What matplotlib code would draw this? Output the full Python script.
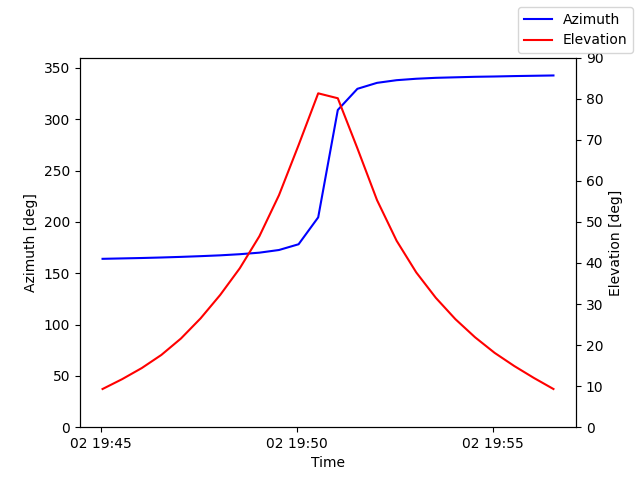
import matplotlib
matplotlib.use("Agg")
import matplotlib.pyplot as plt
import pandas as pd

times = [
    "2024-01-02 19:45:03", "2024-01-02 19:45:33", "2024-01-02 19:46:03", "2024-01-02 19:46:33",
    "2024-01-02 19:47:03", "2024-01-02 19:47:33", "2024-01-02 19:48:03", "2024-01-02 19:48:33",
    "2024-01-02 19:49:03", "2024-01-02 19:49:33", "2024-01-02 19:50:03", "2024-01-02 19:50:33",
    "2024-01-02 19:51:03", "2024-01-02 19:51:33", "2024-01-02 19:52:03", "2024-01-02 19:52:33",
    "2024-01-02 19:53:03", "2024-01-02 19:53:33", "2024-01-02 19:54:03", "2024-01-02 19:54:33",
    "2024-01-02 19:55:03", "2024-01-02 19:55:33", "2024-01-02 19:56:03", "2024-01-02 19:56:33",
]
azimuth = [164.0, 164.4, 164.8, 165.3, 165.9, 166.6, 167.4, 168.5, 170.0, 172.6, 178.2, 204.4,
           309.0, 329.6, 335.4, 338.0, 339.4, 340.3, 340.8, 341.3, 341.6, 342.0, 342.3, 342.6]
elevation = [9.3, 11.7, 14.4, 17.6, 21.6, 26.5, 32.2, 38.7, 46.5, 56.5, 68.7, 81.3,
             80.1, 67.9, 55.3, 45.4, 37.7, 31.5, 26.3, 21.9, 18.1, 14.9, 12.0, 9.3]

t = pd.to_datetime(times)

fig, ax1 = plt.subplots(figsize=(6.4, 4.8), dpi=100)
ax2 = ax1.twinx()
ax1.plot(t, azimuth, color="blue", label="Azimuth")
ax2.plot(t, elevation, color="red", label="Elevation")
ax1.set_ylim(0, 360)
ax2.set_ylim(0, 90)
ax1.set_xlabel("Time")
ax1.set_ylabel("Azimuth [deg]")
ax2.set_ylabel("Elevation [deg]")
fig.legend(loc="upper right")
fig.savefig("out.png", dpi=100)
